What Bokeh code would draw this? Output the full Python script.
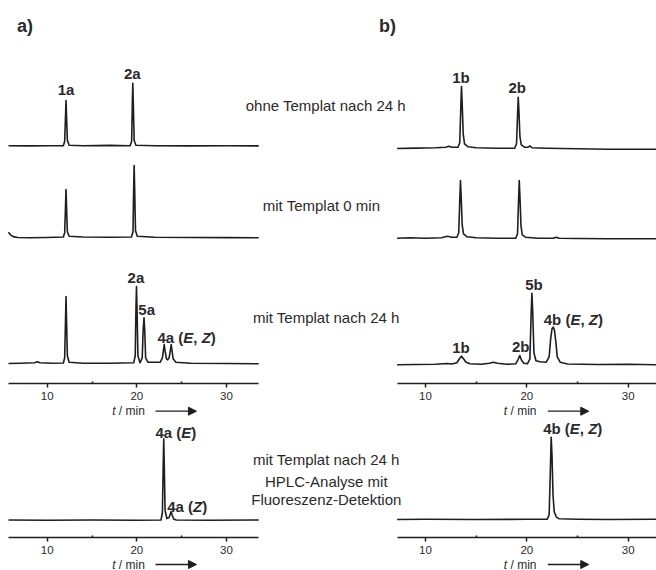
from bokeh.plotting import figure
from bokeh.models import Range1d, LinearAxis, FixedTicker, Arrow, NormalHead
from bokeh.layouts import column, row
from bokeh.embed import file_html
from bokeh.resources import INLINE
from bokeh.core.properties import value

# ---------------- data (retention time t / min, detector signal in a.u.) ----------------
TICKS = [10, 20, 30]
MINOR_TICKS = [15, 25]
A_SPAN = (5.68, 33.6)
B_SPAN = (7.2, 32.79)

# panel a
a1_t = [5.68, 8, 10, 11.8, 11.95, 12.05, 12.1, 12.15, 12.25, 12.45, 14, 17, 19.25, 19.42, 19.5, 19.55, 19.6, 19.7, 19.9, 22, 26, 30, 33.6]
a1_y = [0.5, 0.3, 0.5, 0.5, 5, 32, 45.7, 32, 6, 1, 0.5, 0.8, 0.5, 5, 45, 63, 45, 6, 1, 0.5, 0.3, 0.5, 0.3]

a2_t = [5.68, 5.9, 6.2, 6.7, 8, 10, 11.8, 11.95, 12.05, 12.1, 12.15, 12.25, 12.45, 14, 17, 19.4, 19.57, 19.65, 19.7, 19.75, 19.85, 20.05, 22, 26, 30, 33.6]
a2_y = [5.6, 3, 1.2, 0.3, 0, 0.3, 0.8, 5, 34, 48.3, 34, 6, 1.5, 0.8, 0.5, 0.8, 6, 52, 72.3, 52, 7, 1.5, 0.6, 0.3, 0.2, 0]

a3_t = [5.68, 7, 8.6, 8.9, 9.2, 10.5, 11.8, 11.95, 12.05, 12.1, 12.15, 12.25, 12.45, 14, 17, 19.65, 19.82, 19.9, 19.96,
        20.02, 20.12, 20.35, 20.6, 20.7, 20.8, 20.88, 20.98, 21.25, 22.6, 22.85, 22.97, 23.05, 23.13, 23.3, 23.44,
        23.6, 23.75, 23.83, 23.91, 24.05, 24.35, 26, 30, 33.6]
a3_y = [0.3, 0.5, 1, 2, 1, 0.5, 0.8, 6, 47, 67.3, 47, 8, 1.5, 0.6, 0.5, 1, 8, 55, 77.3,
        55, 8, 1, 6, 33, 46, 33, 6, 1.5, 1.5, 6, 14, 19.3, 14, 5, 4,
        6, 14, 19.3, 14, 5, 1.5, 0.5, 0.3, 0]

a4_t = [5.68, 10, 15, 20, 22.7, 22.85, 22.95, 23.0, 23.05, 23.15, 23.35, 23.6, 23.75, 23.83, 23.92, 24.1, 24.4, 28, 33.6]
a4_y = [0.5, 0.3, 0.5, 0.3, 0.5, 8, 60, 81.7, 60, 10, 2, 3, 7, 9, 6, 1.5, 0.5, 0.3, 0.5]

# panel b
b1_t = [7.2, 9, 11, 12.0, 12.3, 12.6, 13.2, 13.38, 13.48, 13.55, 13.62, 13.72, 13.85, 14.2, 15, 17, 18.8, 18.98, 19.08,
        19.15, 19.22, 19.32, 19.45, 19.8, 20.1, 20.3, 20.5, 22, 25, 28, 33]
b1_y = [0.3, 0.7, 1.0, 1.5, 2.5, 1.5, 1.5, 6, 40, 62.3, 45, 15, 5, 2, 1, 0.5, 0.5, 5, 33,
        51.6, 37, 12, 4, 1.5, 1.5, 3, 1, 0.5, 0, -0.5, -0.5]

b2_t = [7.2, 8.5, 10, 11.6, 12.14, 12.6, 13.1, 13.28, 13.38, 13.45, 13.52, 13.62, 13.75, 14.1, 15, 17, 18.9, 19.08, 19.18,
        19.25, 19.32, 19.42, 19.55, 19.9, 21, 22.6, 22.9, 23.2, 25, 28, 33]
b2_y = [0.5, 1.0, 0.5, 1, 2.5, 1.5, 1.5, 6, 38, 58.3, 42, 14, 5, 2, 1, 0.5, 0.5, 5, 38,
        58.3, 42, 13, 4, 1.5, 0.6, 0.5, 1.5, 0.5, 0.3, 0, 0]

b3_t = [7.2, 9, 11, 12.1, 12.6, 13.1, 13.35, 13.55, 13.75, 14.0, 14.4, 15.5, 16.3, 16.7, 17.1, 18.0, 18.9, 19.12, 19.3,
        19.45, 19.7, 20.05, 20.3, 20.42, 20.5, 20.58, 20.7, 20.9, 21.3, 21.9, 22.2, 22.35, 22.48, 22.6, 22.72, 22.85,
        23.0, 23.3, 24, 27, 30, 33]
b3_y = [0, 0.3, 0.5, 1.3, 0.8, 2, 6, 8.6, 6, 2.5, 1, 0.5, 1.5, 2.6, 1.5, 0.5, 1, 5, 9.3,
        5, 1.5, 1, 6, 50, 71.6, 52, 12, 4, 3, 2.5, 8, 26, 36, 37.6, 35, 24,
        8, 2.5, 0.8, 0.3, 0.5, 0]

b4_t = [7.2, 10, 15, 20, 22.0, 22.2, 22.32, 22.4, 22.48, 22.58, 22.7, 22.9, 23.2, 25, 28, 33]
b4_y = [0.3, 0.5, 0.3, 0.5, 0.5, 5, 50, 82.6, 65, 25, 8, 3, 1, 0.5, 0.3, 0.5]

# peak labels: (trace, pieces [(text, style)], t, signal height of label centre, align)
PEAK_LABELS = [
    ("a1", [("1a", "bold")], 12.1, 56.7, "center"),
    ("a1", [("2a", "bold")], 19.5, 73.0, "center"),
    ("b1", [("1b", "bold")], 13.5, 71.6, "center"),
    ("b1", [("2b", "bold")], 19.05, 61.0, "center"),
    ("a3", [("2a", "bold")], 19.9, 86.3, "center"),
    ("a3", [("5a", "bold")], 21.1, 54.3, "center"),
    ("a3", [("4a (", "bold"), ("E", "bold italic"), (",", "bold"), ("Z", "bold italic"), (")", "bold")], 22.3, 26.3, "left"),
    ("b3", [("1b", "bold")], 13.5, 17.6, "center"),
    ("b3", [("2b", "bold")], 19.4, 18.6, "center"),
    ("b3", [("5b", "bold")], 20.7, 80.3, "center"),
    ("b3", [("4b (", "bold"), ("E", "bold italic"), (",", "bold"), ("Z", "bold italic"), (")", "bold")], 21.67, 45.0, "left"),
    ("a4", [("4a (", "bold"), ("E", "bold italic"), (")", "bold")], 22.08, 88.3, "left"),
    ("a4", [("4a (", "bold"), ("Z", "bold italic"), (")", "bold")], 23.39, 14.0, "left"),
    ("b4", [("4b (", "bold"), ("E", "bold italic"), (",", "bold"), ("Z", "bold italic"), (")", "bold")], 21.61, 91.0, "left"),
]

CONDITIONS_TOP = ["ohne Templat nach 24 h", "mit Templat 0 min", "mit Templat nach 24 h"]
CONDITIONS_BOTTOM = ["mit Templat nach 24 h", "HPLC-Analyse mit", "Fluoreszenz-Detektion"]
PANEL_TAGS = ["a)", "b)"]
AXIS_LABEL = ("t", "/ min")

# ---------------- layout / style ----------------
W = 656
# vertical bands (page pixels): top canvas, axis strip, fluorescence canvas, axis strip, footer
Y_TOP, Y_S1, Y_MID, Y_S2, Y_FOOT, Y_END = 0, 381, 402, 535, 556, 570
A_PX10, A_PPM = 46.7, 8.965      # pixel of t=10 and pixels per minute, panel a
B_PX10, B_PPM = 425.0, 10.135    # same for panel b
INK = "#1e1e1e"
TXT = "#2a2a2a"
FONT_NAME = "Liberation Sans"
FONT = value(FONT_NAME)

# Arial/Liberation advance widths (1/1000 em) for label composition
ADV = {"4": 556, "a": 556, "b": 611, " ": 278, "(": 333, ")": 333, "E": 667, "Z": 611, ",": 278,
       "t": 278, "/": 278, "m": 833, "i": 222, "n": 556}
# extra gap after a piece (a collapsed space)
GAP_AFTER = {",": 278}


def text_width(s, size):
    return sum(ADV.get(c, 556) for c in s) * size / 1000.0


def make_canvas(y0, y1, baselines):
    H = y1 - y0
    xa0 = 10 - A_PX10 / A_PPM
    xb0 = 10 - B_PX10 / B_PPM
    f = figure(width=W, height=H, x_range=Range1d(xa0, xa0 + W / A_PPM), y_range=Range1d(y1, y0),
               output_backend="svg", toolbar_location=None, min_border=0,
               x_axis_location=None, y_axis_location=None, outline_line_color=None)
    f.extra_x_ranges = {"b": Range1d(xb0, xb0 + W / B_PPM), "page": Range1d(0, W)}
    f.extra_y_ranges = {k: Range1d(-(y1 - yb), yb - y0) for k, yb in baselines.items()}
    f.xgrid.visible = False
    f.ygrid.visible = False
    return f


def xr(key):
    return "default" if key.startswith("a") else "b"


def draw_trace(f, key, t, y):
    f.line(t, y, x_range_name=xr(key), y_range_name=key, line_color=INK, line_width=1.6, line_join="round")


def draw_labels(f, keys):
    for key, pieces, t, h, align in PEAK_LABELS:
        if key not in keys:
            continue
        off = 0.0
        for txt, style in pieces:
            f.text(x=[t], y=[h], text=[txt], x_range_name=xr(key), y_range_name=key,
                   x_offset=off, text_font=FONT, text_font_size="15px", text_font_style=style,
                   text_align=align, text_baseline="middle", text_color=TXT)
            off += text_width(txt, 15) + GAP_AFTER.get(txt, 0) * 15 / 1000.0


def draw_center(f, lines, xs, ys):
    f.text(x=xs, y=ys, text=lines, x_range_name="page", text_font=FONT, text_font_size="15px",
           text_align="center", text_baseline="middle", text_color=TXT)


def draw_time_label(f, y):
    for rng, t_text, t_a0, t_a1 in (("default", 17.25, 22.08, 26.65), ("b", 17.73, 22.07, 26.11)):
        f.text(x=[t_text], y=[y], text=[AXIS_LABEL[0]], x_range_name=rng, text_font=FONT,
               text_font_size="12px", text_font_style="italic", text_align="left",
               text_baseline="middle", text_color=TXT)
        f.text(x=[t_text], y=[y], text=[AXIS_LABEL[1]], x_range_name=rng, x_offset=text_width("t ", 12),
               text_font=FONT, text_font_size="12px", text_align="left", text_baseline="middle",
               text_color=TXT)
        f.add_layout(Arrow(x_start=t_a0, y_start=y, x_end=t_a1, y_end=y, x_range_name=rng,
                           line_color=INK, line_width=1.3,
                           end=NormalHead(size=8, fill_color=INK, line_color=INK)))


def make_strip(width, px10, ppm, left_px, span, height):
    t0 = 10 - (px10 - left_px) / ppm
    f = figure(width=width, height=height, x_range=Range1d(t0, t0 + width / ppm), y_range=Range1d(0, 1),
               output_backend="svg", toolbar_location=None, min_border=0,
               x_axis_location=None, y_axis_location=None, outline_line_color=None)
    ax = LinearAxis(ticker=FixedTicker(ticks=TICKS, minor_ticks=MINOR_TICKS), bounds=span,
                    axis_line_color=INK, axis_line_width=1.5,
                    major_tick_in=0, major_tick_out=4, major_tick_line_color=INK, major_tick_line_width=1.5,
                    minor_tick_in=2, minor_tick_out=0, minor_tick_line_color=INK, minor_tick_line_width=1.5,
                    major_label_text_font=FONT_NAME, major_label_text_font_size="11.5px",
                    major_label_text_color=TXT, major_label_standoff=4)
    f.add_layout(ax, "below")
    f.xgrid.visible = False
    f.ygrid.visible = False
    return f


def axis_strip(y0, y1):
    return row(make_strip(328, A_PX10, A_PPM, 0, A_SPAN, y1 - y0),
               make_strip(328, B_PX10, B_PPM, 328, B_SPAN, y1 - y0))


# ---- top block: three chromatograms per panel ----
top = make_canvas(Y_TOP, Y_S1, {"a1": 145.7, "a2": 237.3, "a3": 363.3, "b1": 148.3, "b2": 238.3, "b3": 364.3})
for key, t, y in (("a1", a1_t, a1_y), ("a2", a2_t, a2_y), ("a3", a3_t, a3_y),
                  ("b1", b1_t, b1_y), ("b2", b2_t, b2_y), ("b3", b3_t, b3_y)):
    draw_trace(top, key, t, y)
draw_labels(top, {"a1", "b1", "a3", "b3"})
draw_center(top, CONDITIONS_TOP, [325.3, 321.0, 325.8], [105.0, 205.0, 316.7])
top.text(x=[24.5, 387.0], y=[25.5, 25.5], text=PANEL_TAGS, x_range_name="page", text_font=FONT,
         text_font_size="18px", text_font_style="bold", text_align="center", text_baseline="middle",
         text_color=TXT)

strip1 = axis_strip(Y_S1, Y_MID)

# ---- fluorescence block ----
mid = make_canvas(Y_MID, Y_S2, {"a4": 520.0, "b4": 519.3})
draw_time_label(mid, 410.7)
draw_trace(mid, "a4", a4_t, a4_y)
draw_trace(mid, "b4", b4_t, b4_y)
draw_labels(mid, {"a4", "b4"})
draw_center(mid, CONDITIONS_BOTTOM, [325.8, 325.8, 325.8], [459.3, 480.5, 499.0])

strip2 = axis_strip(Y_S2, Y_FOOT)

foot = make_canvas(Y_FOOT, Y_END, {})
draw_time_label(foot, 564.0)

layout = column(top, strip1, mid, strip2, foot)

open("out.html", "w").write(file_html(layout, INLINE, title="HPLC"))
